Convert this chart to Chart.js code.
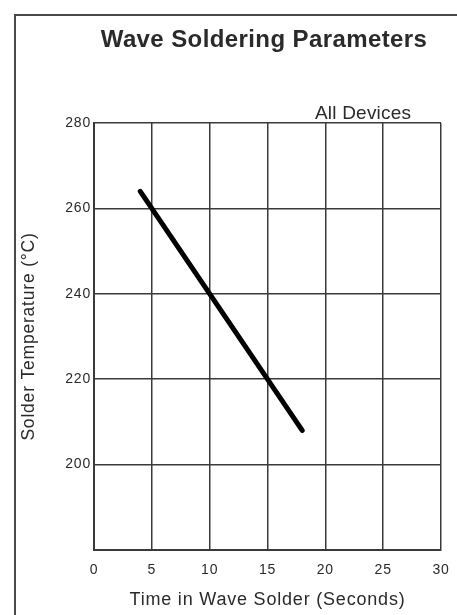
<!DOCTYPE html>
<html>
<head>
<meta charset="utf-8">
<script src="https://cdn.jsdelivr.net/npm/chart.js@4/dist/chart.umd.min.js"></script>
<style>
  html, body { margin: 0; padding: 0; background: #fff; }
  #wrap { width: 457px; height: 615px; }
</style>
</head>
<body>
<div id="wrap"><canvas id="waveChart"></canvas></div>
<script>
// Wave soldering chart data
const timeSeconds = [4, 18];
const solderTemp = [264, 208];
const xTicks = [0, 5, 10, 15, 20, 25, 30];
const yTicks = [200, 220, 240, 260, 280];

const chartTitle = 'Wave Soldering Parameters';
const seriesNote = 'All Devices';
const xTitle = 'Time in Wave Solder (Seconds)';
const yTitle = 'Solder Temperature (°C)';

const FONT = "'Liberation Sans', Arial, Helvetica, sans-serif";
const GRID = '#3a3a3a';
const TEXT = '#2a2a2a';

// frame, title and note drawn on the canvas
const decorations = {
    id: 'decorations',
    beforeDraw(chart) {
        const c = chart.ctx;
        const area = chart.chartArea;
        c.save();
        c.strokeStyle = '#4a4a4a';
        c.lineWidth = 2;
        c.beginPath();
        c.moveTo(chart.width, 15);
        c.lineTo(15, 15);
        c.lineTo(15, chart.height);
        c.stroke();

        c.fillStyle = TEXT;
        c.font = 'bold 24px ' + FONT;
        c.letterSpacing = '0.4px';
        c.textAlign = 'center';
        c.textBaseline = 'alphabetic';
        c.fillText(chartTitle, 264, 47);

        c.letterSpacing = '0.2px';
        c.font = '19px ' + FONT;
        c.textAlign = 'left';
        c.fillText(seriesNote, area.right - 126, area.top - 4);
        c.restore();
        // the axis texts of the reference are a little spaced out
        c.letterSpacing = '0.8px';
    }
};

const ctx = document.getElementById('waveChart');
new Chart(ctx, {
    type: 'line',
    data: {
        datasets: [{
            label: seriesNote,
            data: timeSeconds.map((t, i) => ({ x: t, y: solderTemp[i] })),
            borderColor: '#000',
            borderWidth: 5,
            borderCapStyle: 'round',
            pointRadius: 0,
            tension: 0
        }]
    },
    options: {
        responsive: true,
        maintainAspectRatio: false,
        animation: false,
        layout: {
            padding: { left: 0, right: 16, top: 123, bottom: 0 }
        },
        plugins: {
            legend: { display: false },
            tooltip: { enabled: false }
        },
        scales: {
            x: {
                type: 'linear',
                min: 0,
                max: 30,
                afterBuildTicks: s => { s.ticks = xTicks.map(v => ({ value: v })); },
                afterFit: s => {
                    s.height = 65;
                    s.paddingLeft = 0;
                    s.paddingRight = 0;
                },
                ticks: {
                    padding: 12,
                    color: TEXT,
                    font: { size: 14, family: FONT }
                },
                grid: {
                    color: GRID,
                    lineWidth: 1.5,
                    drawTicks: false
                },
                border: { color: GRID, width: 2 },
                title: {
                    display: true,
                    text: xTitle,
                    color: TEXT,
                    padding: { top: 0, bottom: 4 },
                    font: { size: 18, family: FONT }
                }
            },
            y: {
                type: 'linear',
                min: 180,
                max: 280,
                afterBuildTicks: s => { s.ticks = yTicks.map(v => ({ value: v })); },
                afterFit: s => {
                    s.width = 94;
                    s.paddingTop = 0;
                    s.paddingBottom = 0;
                },
                ticks: {
                    padding: 3,
                    color: TEXT,
                    font: { size: 14, family: FONT }
                },
                grid: {
                    color: GRID,
                    lineWidth: 1.5,
                    drawTicks: false
                },
                border: { color: GRID, width: 2 },
                title: {
                    display: true,
                    text: yTitle,
                    color: TEXT,
                    padding: { top: 19, bottom: 0 },
                    font: { size: 17.5, family: FONT }
                }
            }
        }
    },
    plugins: [decorations]
});
</script>
</body>
</html>
